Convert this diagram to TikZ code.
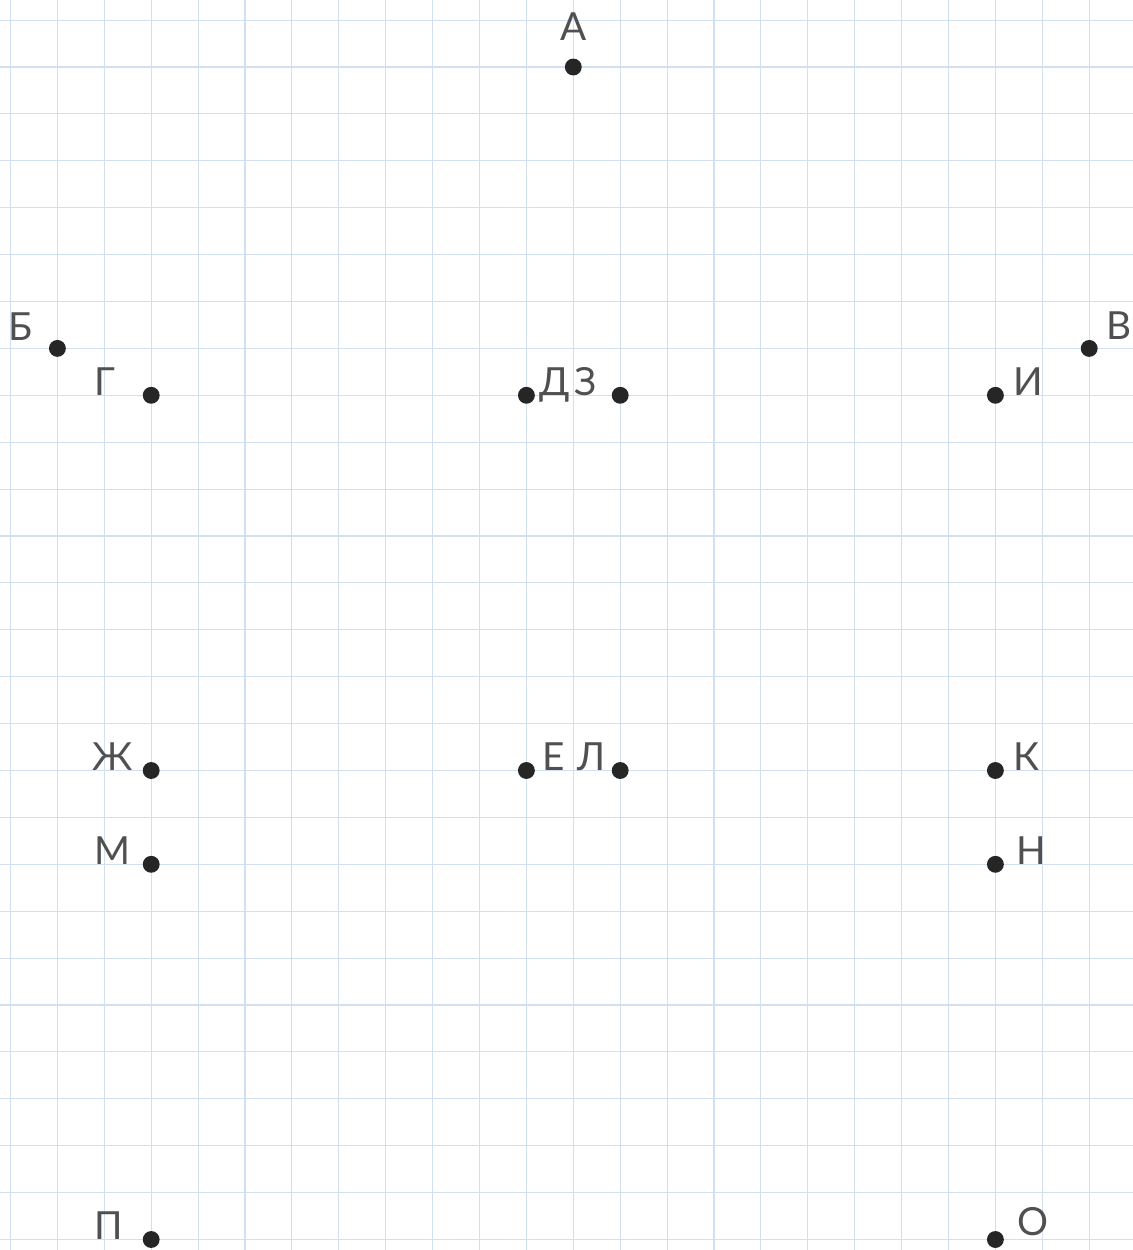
\documentclass[tikz,border=0pt]{standalone}
\usepackage{fontspec}
\setmainfont{Lato}
\definecolor{gridblue}{RGB}{208,224,240}
\definecolor{dotgray}{RGB}{38,38,38}
\definecolor{labgray}{RGB}{80,80,80}

\begin{document}
\begin{tikzpicture}[dot/.style={circle, fill=dotgray, inner sep=0pt, minimum size=0.36cm},
    lab/.style={inner sep=0pt, text=labgray, font=\fontsize{23.5}{27}\selectfont}]
        \fill[white] (-0.224,-25.224) rectangle (23.934,1.4286);
        \useasboundingbox (-0.224,-25.224) rectangle (23.934,1.4286);
        \draw[gridblue, line width=0.7pt, step=1] (-0.224,-25.224) grid (23.934,1.4286);

        % top point
        \node[dot] (a) at (12, 0) {};
        \node[lab, anchor=base] (la) at ([yshift=0.57cm]a.center) {А};

        % row 6 and 7
        \node[dot] (b) at (1, -6) {};
        \node[lab, anchor=base east] (lb) at ([xshift=-0.53cm, yshift=0.17cm]b.center) {Б};
        \node[dot] (v) at (23, -6) {};
        \node[lab, anchor=base west] (lv) at ([xshift=0.36cm, yshift=0.19cm]v.center) {В};

        \node[dot] (g) at (3, -7) {};
        \node[lab, anchor=base east] (lg) at ([xshift=-0.75cm]g.center) {Г};
        \node[dot] (d) at (11, -7) {};
        \node[lab, anchor=base west] (ld) at ([xshift=0.28cm]d.center) {Д};
        \node[dot] (z) at (13, -7) {};
        \node[lab, anchor=base east] (lz) at ([xshift=-0.50cm]z.center) {З};
        \node[dot] (i) at (21, -7) {};
        \node[lab, anchor=base west] (li) at ([xshift=0.38cm]i.center) {И};

        % row 15
        \node[dot] (zh) at (3, -15) {};
        \node[lab, anchor=base east] (lzh) at ([xshift=-0.38cm]zh.center) {Ж};
        \node[dot] (e) at (11, -15) {};
        \node[lab, anchor=base west] (le) at ([xshift=0.34cm]e.center) {Е};
        \node[dot] (l) at (13, -15) {};
        \node[lab, anchor=base east] (ll) at ([xshift=-0.30cm]l.center) {Л};
        \node[dot] (k) at (21, -15) {};
        \node[lab, anchor=base west] (lk) at ([xshift=0.38cm]k.center) {К};

        % row 17
        \node[dot] (m) at (3, -17) {};
        \node[lab, anchor=base east] (lm) at ([xshift=-0.43cm]m.center) {М};
        \node[dot] (n) at (21, -17) {};
        \node[lab, anchor=base west] (ln) at ([xshift=0.45cm]n.center) {Н};

        % bottom row
        \node[dot] (p) at (3, -25) {};
        \node[lab, anchor=base east] (lp) at ([xshift=-0.60cm]p.center) {П};
        \node[dot] (o) at (21, -25) {};
        \node[lab, anchor=base west] (lo) at ([xshift=0.47cm, yshift=0.09cm]o.center) {О};
      \end{tikzpicture}
\end{document}
